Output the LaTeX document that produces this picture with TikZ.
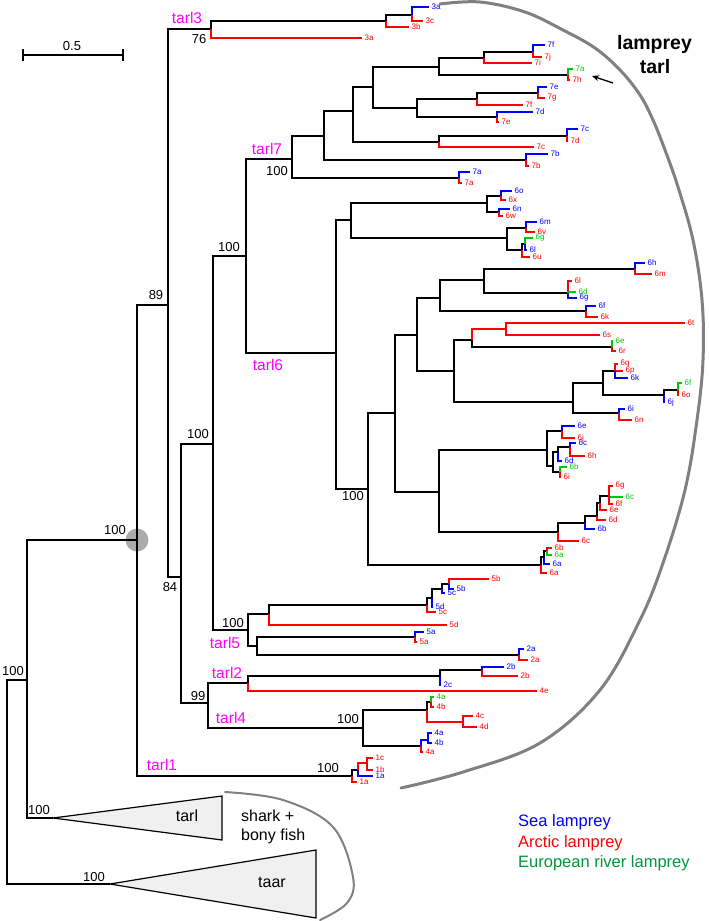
\documentclass[tikz,border=0pt]{standalone}
\usepackage{fontspec}
\setmainfont{Liberation Sans}
\usetikzlibrary{arrows.meta,calc}

\definecolor{sealam}{RGB}{0,0,255}
\definecolor{arclam}{RGB}{255,0,0}
\definecolor{eurlam}{RGB}{0,200,0}
\definecolor{eurtxt}{RGB}{0,150,60}
\definecolor{tarlmag}{RGB}{255,0,255}
\definecolor{hullgray}{RGB}{128,128,128}
\definecolor{trifill}{RGB}{240,240,240}

\begin{document}
\begin{tikzpicture}[x=1pt, y=-1pt, line join=miter,
  br/.style={line width=1.4pt},
  leaf/.style={anchor=west, inner sep=0pt, xshift=2.5pt, font=\fontsize{8}{9}\selectfont},
  boot/.style={inner sep=0pt, font=\fontsize{13}{15}\selectfont},
  clade/.style={inner sep=0pt, text=tarlmag, font=\fontsize{15.5}{17}\selectfont},
  big/.style={inner sep=0pt, font=\fontsize{16}{18}\selectfont},
  legend/.style={anchor=base west, inner sep=0pt, font=\fontsize{16.5}{19}\selectfont},
  hull/.style={draw=hullgray, line cap=round},
  tri/.style={draw, line width=1.2pt, fill=trifill}]
  \useasboundingbox (0,0) rectangle (709,921);

  % --- internal nodes (pixel positions of the tree) ---
  \foreach \nm/\x/\y in {root/7/782, N0/27/680, lam/137/540, nA/168/305,
      t3/211/29, n3a/386/21, n3b/412/15, nB/181/577, nC/213/444, t76/246/256,
      t7/292/159, n7a/324/136, n7b/353/111, n7c/373/87, n7d/439/67, n7f/484/58,
      n7h/533/52, n7g/568/75, n7e/417/108, n7i/477/99, n7k/538/93, n7j/497/117,
      n7x/439/142, n7w/567/136, n7y/526/160, n7z/459/178,
      t6/336/353, n6a/351/220, n6c/487/203, n6e/501/196, n6f/499/212,
      n6d/507/238, n6g/526/228, n6h/522/250, n6i/525/244, n6b/368/489,
      n6j/395/413, n6l/417/335, n6n/440/298, n6p/484/280, n6r/635/269,
      n6s/568/293, n6q/586/311, n6o/454/371, n6t/472/340, n6v/506/329,
      n6w/612/347, n6u/573/402, n6aa/603/383, n6ac/615/371, n6ad/664/395,
      n6ae/678/390, n6ab/619/413, n6m/439/492, n6af/547/450, n6ah/562/431,
      n6ai/553/466, n6aj/558/452, n6al/570/447, n6ak/560/472, n6ag/558/532,
      n6am/585/523, n6an/597/516, n6ao/600/503, n6ap/609/496, n6z/541/565,
      n6y/544/557, n6x/547/551,
      t5/248/630, n5a/269/614, n5c/427/605, n5d/432/598, n5e/442/589,
      n5f/449/584, n5b/257/646, n5g/415/637, n5h/519/655,
      nD/208/703, t2/248/683, n2a/440/676, n2b/482/670, t4/363/728,
      n4a/427/710, n4c/431/702, n4d/463/722, n4b/421/746, n4e/428/740,
      t1/352/776, n1a/358/770, n1b/367/763,
      tarlTip/53/818, taarTip/110/884}
    \coordinate (\nm) at (\x,\y);

  % --- collapsed shark + bony fish clades ---
  \coordinate (tarlTop) at (222,796);
  \coordinate (tarlBot) at (222,840);
  \coordinate (taarTop) at (316,850);
  \coordinate (taarBot) at (316,918);
  \draw[tri] (tarlTip) -- (tarlTop) -- (tarlBot) -- cycle;
  \draw[tri] (taarTip) -- (taarTop) -- (taarBot) -- cycle;

  % --- internal branches ---
  \foreach \p/\ch in {root/N0, root/taarTip, N0/lam, N0/tarlTip, lam/nA, lam/t1,
      nA/t3, nA/nB, t3/n3a, n3a/n3b, nB/nC, nB/nD, nC/t76, nC/t5,
      t76/t7, t76/t6, t7/n7a, t7/n7z, n7a/n7b, n7a/n7y, n7b/n7c, n7b/n7x,
      n7x/n7w, n7c/n7d, n7c/n7e, n7d/n7f, n7d/n7g, n7f/n7h, n7e/n7i,
      n7e/n7j, n7i/n7k,
      t6/n6a, t6/n6b, n6a/n6c, n6a/n6d, n6c/n6e, n6c/n6f, n6d/n6g, n6d/n6h,
      n6h/n6i, n6b/n6j, n6b/n6z, n6z/n6y, n6y/n6x, n6j/n6l, n6j/n6m,
      n6l/n6n, n6l/n6o, n6n/n6p, n6n/n6q, n6p/n6r, n6p/n6s, n6o/n6t,
      n6o/n6u, n6t/n6w, n6u/n6aa, n6u/n6ab, n6aa/n6ac, n6aa/n6ad,
      n6ad/n6ae, n6m/n6af, n6m/n6ag, n6af/n6ah, n6af/n6ai, n6ai/n6aj,
      n6ai/n6ak, n6aj/n6al, n6ag/n6am, n6am/n6an, n6an/n6ao, n6ao/n6ap,
      t5/n5a, t5/n5b, n5a/n5c, n5c/n5d, n5d/n5e, n5e/n5f, n5b/n5g, n5b/n5h,
      nD/t2, nD/t4, t2/n2a, n2a/n2b, t4/n4a, t4/n4b, n4a/n4c, t1/n1a}
    \draw[br] (\p) |- (\ch);
  \draw[br, arclam] (n6t) |- (n6v);
  \draw[br, arclam] (n4a) |- (n4d);
  \draw[br, sealam] (n4b) |- (n4e);
  \draw[br, arclam] (n1a) |- (n1b);

  % --- leaves: branch + gene label ---
  \foreach \nm/\p/\x/\y/\col/\lbl in {
      s3a/n3b/429/7/sealam/3a, a3c/n3b/423/21/arclam/3c, a3b/n3a/409/27/arclam/3b,
      a3a/t3/362/38/arclam/3a,
      s7f/n7h/545/45/sealam/7f, a7j/n7h/542/57/arclam/7j, a7i/n7f/532/63/arclam/7i,
      e7a/n7g/573/69/eurlam/7a, a7h/n7g/570/80/arclam/7h, s7e/n7k/547/87/sealam/7e,
      a7g/n7k/545/98/arclam/7g, a7f/n7i/523/105/arclam/7f, s7d/n7j/533/112/sealam/7d,
      a7e/n7j/499/122/arclam/7e, s7c/n7w/578/129/sealam/7c, a7d/n7w/568/141/arclam/7d,
      a7c/n7x/534/147/arclam/7c, s7b/n7y/548/154/sealam/7b, a7b/n7y/529/166/arclam/7b,
      s7a/n7z/470/172/sealam/7a, a7a/n7z/462/183/arclam/7a,
      s6o/n6e/512/191/sealam/6o, a6x/n6e/506/200/arclam/6x, s6n/n6f/510/209/sealam/6n,
      a6w/n6f/503/216/arclam/6w, s6m/n6g/537/222/sealam/6m, a6v/n6g/535/232/arclam/6v,
      e6g/n6i/533/238/eurlam/6g, s6l/n6i/527/250/sealam/6l, a6u/n6h/530/257/arclam/6u,
      s6h/n6r/645/263/sealam/6h, a6m/n6r/652/274/arclam/6m, a6l/n6s/572/281/arclam/6l,
      e6d/n6s/576/292/eurlam/6d, s6g/n6s/577/298/sealam/6g, s6f/n6q/596/306/sealam/6f,
      a6k/n6q/598/317/arclam/6k, a6t/n6v/685/323/arclam/6t, a6s/n6v/600/335/arclam/6s,
      e6e/n6w/613/341/eurlam/6e, a6r/n6w/616/351/arclam/6r, a6q/n6ac/618/364/arclam/6q,
      a6p/n6ac/623/371/arclam/6p, s6k/n6ac/628/378/sealam/6k, e6f/n6ae/682/383/eurlam/6f,
      a6o/n6ae/679/395/arclam/6o, s6j/n6ad/665/402/sealam/6j, s6i/n6ab/625/409/sealam/6i,
      a6n/n6ab/632/420/arclam/6n, s6e/n6ah/575/426/sealam/6e, a6j/n6ah/575/438/arclam/6j,
      s6c/n6al/576/443/sealam/6c, a6h/n6al/585/456/arclam/6h, s6d/n6aj/562/461/sealam/6d,
      e6b/n6ak/567/467/eurlam/6b, a6i/n6ak/561/477/arclam/6i, a6g/n6ap/613/486/arclam/6g,
      e6c/n6ap/623/497/eurlam/6c, a6f/n6ap/613/504/arclam/6f, a6e/n6ao/607/510/arclam/6e,
      a6d/n6an/606/520/arclam/6d, s6b/n6am/595/529/sealam/6b, a6c/n6ag/579/541/arclam/6c,
      a6b/n6x/552/548/arclam/6b, e6a/n6x/552/555/eurlam/6a, s6a/n6y/550/564/sealam/6a,
      a6a/n6z/547/573/arclam/6a,
      a5b/n5f/489/579/arclam/5b, s5b/n5f/454/589/sealam/5b, s5c/n5e/445/593/sealam/5c,
      s5d/n5d/433/607/sealam/5d, a5c/n5c/436/612/arclam/5c, a5d/n5a/447/625/arclam/5d,
      s5a/n5g/424/632/sealam/5a, a5a/n5g/417/642/arclam/5a, s2a/n5h/524/649/sealam/2a,
      a2a/n5h/528/660/arclam/2a,
      s2b/n2b/504/667/sealam/2b, a2b/n2b/518/676/arclam/2b, s2c/n2a/441/685/sealam/2c,
      a4e/t2/537/691/arclam/4e,
      e4a/n4c/434/697/eurlam/4a, a4b/n4c/434/707/arclam/4b, a4c/n4d/473/716/arclam/4c,
      a4d/n4d/477/727/arclam/4d, s4a/n4e/432/733/sealam/4a, s4b/n4e/432/743/sealam/4b,
      a4a/n4b/423/752/arclam/4a,
      a1c/n1b/373/758/arclam/1c, a1b/n1b/373/770/arclam/1b, s1a/n1a/373/776/sealam/1a,
      a1a/t1/357/782/arclam/1a}
  {
    \coordinate (\nm) at (\x,\y);
    \draw[br, color=\col] (\p) |- (\nm);
    \node[leaf, text=\col] (\nm-l) at (\nm) {\lbl};
  }

  % --- lamprey root marker ---
  \fill[black, opacity=0.33] (lam) circle[radius=11.5pt];

  % --- bootstrap values ---
  \node[boot] (bsN0) at (13,671) {100};
  \node[boot] (bsTri) at (39,810) {100};
  \node[boot] (bsTaar) at (94,877) {100};
  \node[boot] (bsLam) at (115,530) {100};
  \node[boot] (bs89) at (156,295) {89};
  \node[boot] (bs76) at (199,39) {76};
  \node[boot] (bs84) at (170,587) {84};
  \node[boot] (bsC) at (198,434) {100};
  \node[boot] (bsT76) at (229,247) {100};
  \node[boot] (bsT7) at (277,171) {100};
  \node[boot] (bsT6) at (353,496) {100};
  \node[boot] (bsT5) at (233,623) {100};
  \node[boot] (bs99) at (198,696) {99};
  \node[boot] (bsT4) at (348,719) {100};
  \node[boot] (bsT1) at (328,768) {100};

  % --- clade names ---
  \node[clade] (cl3) at (187,18) {tarl3};
  \node[clade] (cl7) at (267,149) {tarl7};
  \node[clade] (cl6) at (268,365) {tarl6};
  \node[clade] (cl5) at (225,643) {tarl5};
  \node[clade] (cl2) at (227,673) {tarl2};
  \node[clade] (cl4) at (231,718) {tarl4};
  \node[clade] (cl1) at (162,765) {tarl1};
  \node[big] (triTarl) at (187,816) {tarl};
  \node[big] (triTaar) at (272,882) {taar};

  % --- hulls ---
  \draw[hull, line width=3pt] plot[smooth, tension=0.6] coordinates {
      (440,4) (480,2) (525,12) (563,30) (595,48) (620,70) (640,95) (653,120)
      (665,150) (678,187) (693,240) (702,300) (703,360) (697,420) (685,490)
      (663,563) (640,620) (600,690) (540,743) (463,772) (401,788)};
  \draw[hull, line width=2pt] plot[smooth, tension=0.6] coordinates {
      (225,792) (283,800) (333,827) (353,877) (347,903) (320,920)};
  \node[big, anchor=base west] (fishA) at (241,821) {shark +};
  \node[big, anchor=base west] (fishB) at (241,840) {bony fish};
  \node[inner sep=0pt, anchor=base, font=\bfseries\fontsize{19.5}{22}\selectfont] (lampA) at (654.5,49) {lamprey};
  \node[inner sep=0pt, anchor=base, font=\bfseries\fontsize{19.5}{22}\selectfont] (lampB) at (655,73) {tarl};

  % --- arrow to European 7a ---
  \coordinate (arrTail) at (613,83);
  \coordinate (arrHead) at (592,76);
  \draw[line width=1.3pt, -{Stealth[length=7pt, width=6pt]}] (arrTail) -- (arrHead);

  % --- scale bar ---
  \coordinate (sbL) at (23,55);
  \coordinate (sbR) at (123,55);
  \draw[line width=1.3pt] (sbL) -- (sbR);
  \draw[line width=1.3pt] ($(sbL)+(0,-6)$) -- ($(sbL)+(0,6)$);
  \draw[line width=1.3pt] ($(sbR)+(0,-6)$) -- ($(sbR)+(0,6)$);
  \node[boot] (sbLbl) at (72,46) {0.5};

  % --- legend ---
  \node[legend, text=sealam] (lgSea) at (518,826) {Sea lamprey};
  \node[legend, text=arclam] (lgArc) at (518,847) {Arctic lamprey};
  \node[legend, text=eurtxt] (lgEur) at (518,867) {European river lamprey};
\end{tikzpicture}
\end{document}
